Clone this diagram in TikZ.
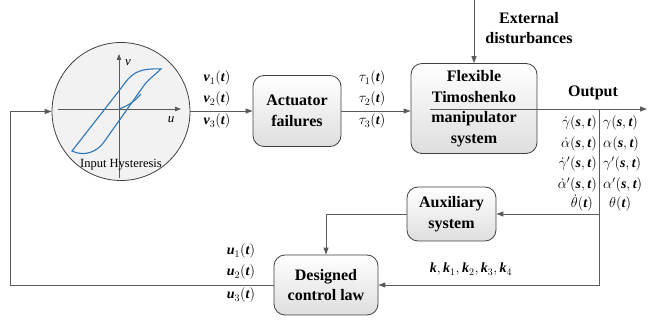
\documentclass[tikz,border=0pt]{standalone}
\usepackage{amsmath}
\usepackage[no-math]{fontspec}
\setmainfont{Liberation Serif}
\usetikzlibrary{arrows.meta,positioning,calc,shadings}
\definecolor{ink}{HTML}{404040}
\definecolor{wire}{HTML}{5A5A5A}
\definecolor{loopblue}{HTML}{2E75B6}
\definecolor{disc}{HTML}{F2F2F2}
\newcommand{\bi}[1]{\text{\bfseries\itshape #1}}

\begin{document}
\begin{tikzpicture}[x=1pt, y=-1pt,
  every node/.style={inner sep=0pt},
  blk/.style={rounded corners=11pt, draw=ink, line width=0.8pt, top color=white, bottom color=black!13,
    align=center, font=\bfseries\fontsize{16}{20.5}\selectfont},
  hyst/.style={circle, draw=ink, line width=0.8pt, fill=disc, minimum size=138pt},
  arr/.style={-{Triangle[length=7pt, width=5pt]}, line width=0.9pt, color=wire},
  ln/.style={line width=0.9pt, color=wire},
  axis/.style={-{Triangle[length=6pt, width=4.5pt]}, line width=0.8pt, color=wire},
  sig/.style={font=\fontsize{14}{16}\selectfont, text height=9pt, text depth=3pt},
  caplbl/.style={font=\bfseries\fontsize{16}{20}\selectfont, align=center}
]
\useasboundingbox (0,0) rectangle (648,320);

% --- input hysteresis
\node[hyst] (hys) at (121,111.5) {};
\draw[axis] (58,109) -- (181,109);
\draw[axis] (119,178) -- (119,54);
\node[font=\itshape\fontsize{13}{13}\selectfont] (vax) at (128,63) {v};
\node[font=\itshape\fontsize{13}{13}\selectfont] (uax) at (171,120) {u};
\draw[loopblue, line width=1.1pt] (72,151) -- (122,87) .. controls (131,74) and (137,68) .. (161,69)
  .. controls (156,74) and (150,78) .. (145,84) -- (104,142) .. controls (97,152) and (84,157) .. cycle;
\draw[loopblue, line width=1.1pt] (119,109) .. controls (127,106) and (133,103) .. (141,94);
\node[font=\fontsize{12.5}{12.5}\selectfont] (hyslbl) at (121,165) {Input Hysteresis};

% --- blocks
\node[blk, minimum width=88pt, minimum height=71pt] (act) at (297,111) {Actuator\\failures};
\node[blk, minimum width=126pt, minimum height=90pt] (fms) at (474,108.5) {Flexible\\Timoshenko\\manipulator\\system};
\node[blk, minimum width=89pt, minimum height=54pt] (aux) at (451.5,214) {Auxiliary\\system};
\node[blk, minimum width=104pt, minimum height=60pt] (ctrl) at (326,285) {Designed\\control law};

% --- forward path
\draw[arr] (hys.east |- act.west) -- (act.west);
\draw[arr] (act.east) -- (act.east -| fms.west);
\coordinate (dist) at (474,0);
\draw[arr] (dist) -- (fms.north);
\coordinate (out0) at (430,109);
\coordinate (outend) at (647,109);
\coordinate (tap) at (599,109);
\draw[arr] (out0) -- (outend);

% --- feedback
\draw[arr] (tap) |- (ctrl.east);
\draw[arr] (tap |- aux.east) -- (aux.east);
\draw[arr] (aux.west) -| (ctrl.north);
\coordinate (fb) at (10,285);
\draw[arr] (ctrl.west) -- (fb) |- (hys.west);

% --- labels
\node[sig] (v1) at (217,79) {$\bi{v}_1(\bi{t})$};
\node[sig] (v2) at (217,100) {$\bi{v}_2(\bi{t})$};
\node[sig] (v3) at (217,122) {$\bi{v}_3(\bi{t})$};
\node[sig] (t1) at (372,79) {$\tau_1(\bi{t})$};
\node[sig] (t2) at (372,100) {$\tau_2(\bi{t})$};
\node[sig] (t3) at (372,122) {$\tau_3(\bi{t})$};
\node[sig] (u1) at (241,252) {$\bi{u}_1(\bi{t})$};
\node[sig] (u2) at (241,273) {$\bi{u}_2(\bi{t})$};
\node[sig] (u3) at (241,296) {$\bi{u}_3(\bi{t})$};
\node[sig] (gains) at (471,270) {$\bi{k},\bi{k}_1,\bi{k}_2,\bi{k}_3,\bi{k}_4$};
\node[caplbl] (ext) at (529,28) {External\\disturbances};
\node[caplbl] (outlbl) at (593,93) {Output};

% --- output columns
\node[sig, anchor=east] (dg) at (597,124) {$\dot{\gamma}(\bi{s},\bi{t})$};
\node[sig, anchor=east] (da) at (597,145) {$\dot{\alpha}(\bi{s},\bi{t})$};
\node[sig, anchor=east] (dgp) at (597,165) {$\dot{\gamma}'(\bi{s},\bi{t})$};
\node[sig, anchor=east] (dap) at (597,185.5) {$\dot{\alpha}'(\bi{s},\bi{t})$};
\node[sig, anchor=east] (dth) at (593,205) {$\dot{\theta}(\bi{t})$};
\node[sig, anchor=west] (g) at (603,124) {$\gamma(\bi{s},\bi{t})$};
\node[sig, anchor=west] (a) at (603,145) {$\alpha(\bi{s},\bi{t})$};
\node[sig, anchor=west] (gp) at (603,165) {$\gamma'(\bi{s},\bi{t})$};
\node[sig, anchor=west] (ap) at (603,185.5) {$\alpha'(\bi{s},\bi{t})$};
\node[sig, anchor=west] (th) at (609,205) {$\theta(\bi{t})$};

\end{tikzpicture}
\end{document}
